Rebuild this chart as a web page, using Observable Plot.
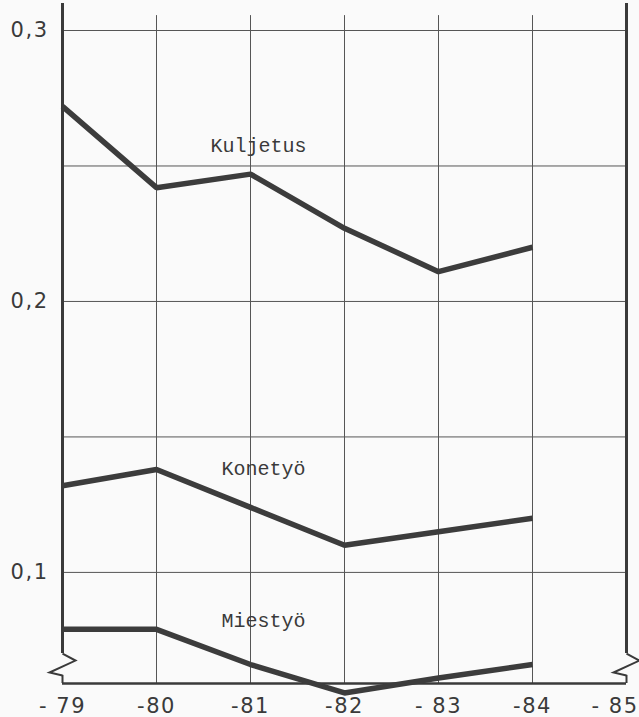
<!DOCTYPE html>
<html><head><meta charset="utf-8">
<script src="https://cdn.jsdelivr.net/npm/d3@7"></script>
<script src="https://cdn.jsdelivr.net/npm/@observablehq/plot@0.6"></script>
<style>
html,body{margin:0;padding:0;background:#fafafa;}
#chart svg{display:block;}
#chart svg g[aria-label="x-axis tick label"] text,
#chart svg g[aria-label="y-axis tick label"] text{letter-spacing:1.5px;}
</style></head><body><div id="chart"></div>
<script>
// ---- data ----
const years = [1979, 1980, 1981, 1982, 1983, 1984];
const kuljetus = [0.272, 0.242, 0.247, 0.227, 0.211, 0.220];
const konetyo  = [0.132, 0.138, 0.124, 0.110, 0.115, 0.120];
const miestyo  = [0.079, 0.079, 0.066, 0.0555, 0.061, 0.066];
const seriesNames = ["Kuljetus", "Konetyö", "Miestyö"];
const xTicks = [1979, 1980, 1981, 1982, 1983, 1984, 1985];
const xTickLabels = ["- 79", "-80", "-81", "-82", "- 83", "-84", "- 85"];
const yGrid = [0.1, 0.15, 0.2, 0.25, 0.3];
const yTickValues = [0.1, 0.2, 0.3];
const yTickLabels = ["0,1", "0,2", "0,3"];
// axis break (broken scale) and frame extents, in data units
const yMin = 0.059, yMax = 0.3;
const gridTop = 0.3055, axisTop = 0.31;
const breakAbove = 0.0701, breakBelow = 0.062, breakMid = 0.066;

const seriesValues = [kuljetus, konetyo, miestyo];
const rows = [];
seriesNames.forEach((s, k) => years.forEach((yr, i) => rows.push({series: s, year: yr, value: seriesValues[k][i]})));

const ink = "#3a3a3a";
const zigzag = {draw(ctx) { ctx.moveTo(0, -11); ctx.lineTo(13, -4); ctx.lineTo(-13, 8); ctx.lineTo(0, 11); }};
const frameX = [xTicks[0], xTicks[xTicks.length - 1]];
const fmtX = d => xTickLabels[xTicks.indexOf(d)];

const labelOffsets = {"Kuljetus": [8, -22], "Konetyö": [13, -32], "Miestyö": [13, -38]};
const labelMarks = seriesNames.map(s => Plot.text(rows.filter(r => r.series === s && r.year === 1981), {
  x: "year", y: "value", text: "series", dx: labelOffsets[s][0], dy: labelOffsets[s][1],
  lineAnchor: "bottom", fontFamily: "Liberation Mono", fontSize: 20, fill: "#3a3a3a"
}));

const chart = Plot.plot({
  width: 639, height: 717,
  marginLeft: 62, marginRight: 13, marginTop: 30, marginBottom: 34,
  style: {background: "#fafafa", color: ink},
  x: {domain: [1979, 1985], label: null},
  y: {domain: [yMin, yMax], label: null},
  marks: [
    Plot.ruleY(yGrid, {x1: frameX[0], x2: frameX[1], stroke: "#555", strokeWidth: 1}),
    Plot.ruleX(xTicks.slice(1, -1), {y1: yMin, y2: gridTop, stroke: "#555", strokeWidth: 1}),
    // left and right frame with broken-scale gaps
    Plot.ruleX(frameX, {y1: breakAbove, y2: axisTop, stroke: ink, strokeWidth: 3}),
    Plot.ruleX(frameX, {y1: yMin, y2: breakBelow, stroke: ink, strokeWidth: 2}),
    Plot.dot(frameX, {x: d => d, y: breakMid, symbol: zigzag, fill: "none", stroke: ink, strokeWidth: 2}),
    Plot.ruleY([yMin], {x1: frameX[0], x2: frameX[1], stroke: ink, strokeWidth: 2.5}),
    Plot.line(rows, {x: "year", y: "value", z: "series", stroke: "#3c3c3c", strokeWidth: 5.5, strokeLinejoin: "miter", strokeLinecap: "butt"}),
    ...labelMarks,
    Plot.axisX({ticks: xTicks.slice(0, -1), tickFormat: fmtX, tickSize: 0, tickPadding: 15, label: null,
      fontSize: 21, fontFamily: "DejaVu Sans", fill: ink}),
    Plot.axisX({ticks: xTicks.slice(-1), tickFormat: fmtX, tickSize: 0, tickPadding: 15, label: null,
      textAnchor: "end", dx: 12, fontSize: 21, fontFamily: "DejaVu Sans", fill: ink}),
    Plot.axisY({ticks: yTickValues, tickFormat: d => yTickLabels[yTickValues.indexOf(d)], tickSize: 0, tickPadding: 14, label: null,
      fontSize: 21, fontFamily: "DejaVu Sans", fill: ink})
  ]
});
document.getElementById("chart").append(chart);
</script>
</body></html>
